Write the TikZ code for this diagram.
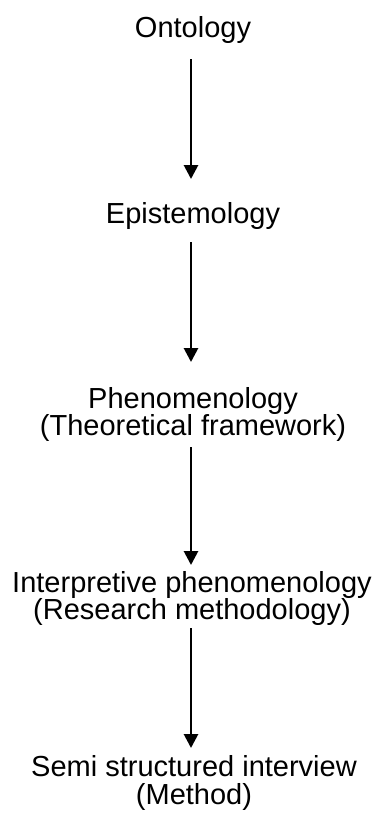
\documentclass[tikz,border=0pt]{standalone}
\usepackage{fontspec}
\setmainfont{Liberation Sans}
\usetikzlibrary{arrows.meta,calc}
\begin{document}
\begin{tikzpicture}[x=1pt,y=-1pt,
  lbl/.style={font=\fontsize{29}{27.5}\selectfont, inner sep=0pt, anchor=base, align=center},
  arr/.style={line width=2.8pt, -{Triangle[width=14pt,length=14pt]}}]
\useasboundingbox (0,0) rectangle (378,817);
\node[lbl] (o) at (193,37) {Ontology};
\node[lbl] (e) at (193,223) {Epistemology};
\node[lbl] (p) at (193,435.5) {Phenomenology\\(Theoretical framework)};
\node[lbl] (i) at (192,619.5) {Interpretive phenomenology\\(Research methodology)};
\node[lbl] (s) at (194,804) {Semi structured interview\\(Method)};
\draw[arr] ($(o.base)+(-2,22)$) -- ($(e.base)+(-2,-44)$);
\draw[arr] ($(e.base)+(-2,19)$) -- ($(p.base)+(-2,-73.5)$);
\draw[arr] ($(p.base)+(-2,11.5)$) -- ($(i.base)+(-1,-54.5)$);
\draw[arr] ($(i.base)+(-1,8.5)$) -- ($(s.base)+(-3,-56)$);
\end{tikzpicture}
\end{document}
